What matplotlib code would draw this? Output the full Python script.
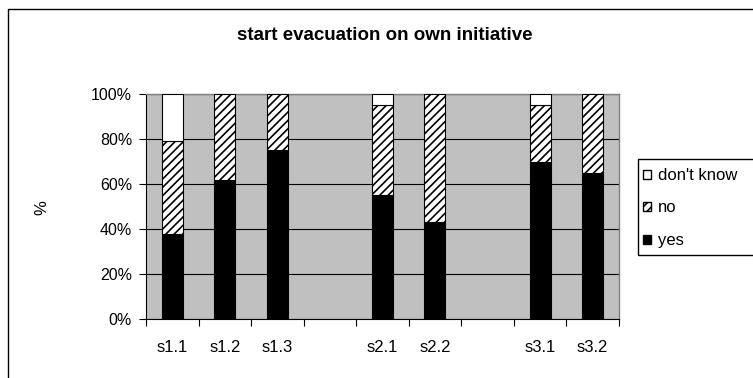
import matplotlib.pyplot as plt
from matplotlib.patches import Rectangle, Patch

plt.rcParams['font.family'] = ['Liberation Sans', 'DejaVu Sans']
plt.rcParams['hatch.linewidth'] = 1.2

# scenario slots, empty strings are the gaps between groups
categories = ['s1.1', 's1.2', 's1.3', '', 's2.1', 's2.2', '', 's3.1', 's3.2']
yes = [38, 62, 75, 0, 55, 43, 0, 70, 65]
no = [41, 38, 25, 0, 40, 57, 0, 25, 35]
dont_know = [21, 0, 0, 0, 5, 0, 0, 5, 0]
y_ticks = [0, 20, 40, 60, 80, 100]

fig = plt.figure(figsize=(7.53, 3.78), dpi=100)
ax = fig.add_axes([0.1939, 0.1553, 0.628, 0.596])
ax.set_facecolor('#C0C0C0')


def stack(values, bottoms, **style):
    # skip empty segments so no outline is drawn for them
    xs = [i for i, v in enumerate(values) if v > 0]
    ax.bar(xs, [values[i] for i in xs], bottom=[bottoms[i] for i in xs],
           width=0.4, edgecolor='black', linewidth=0.8, zorder=3, **style)


base = [0] * len(categories)
stack(yes, base, color='black')
stack(no, yes, color='white', hatch='////')
stack(dont_know, [a + b for a, b in zip(yes, no)], color='white')

ax.set_xlim(-0.5, len(categories) - 0.5)
ax.set_ylim(0, 100)
ax.set_yticks(y_ticks)
ax.set_yticklabels([f'{v}%' for v in y_ticks], fontsize=11.5)
ax.yaxis.grid(True, color='black', linewidth=0.8, zorder=1)

# ticks between slots, labels centred on the slots
ax.set_xticks([i - 0.5 for i in range(len(categories) + 1)])
ax.set_xticklabels([])
ax.set_xticks(range(len(categories)), minor=True)
ax.set_xticklabels(categories, minor=True, fontsize=12)
ax.tick_params(axis='x', which='major', length=5, width=0.8, direction='out')
ax.tick_params(axis='x', which='minor', length=0, pad=15)
ax.tick_params(axis='y', length=5, width=0.8, direction='out', pad=5)

for side in ['top', 'right']:
    ax.spines[side].set_color('#808080')
    ax.spines[side].set_linewidth(1.0)
for side in ['left', 'bottom']:
    ax.spines[side].set_color('black')
    ax.spines[side].set_linewidth(0.8)

fig.text(385 / 753, 1 - 40 / 378, 'start evacuation on own initiative',
         ha='center', va='baseline', fontsize=13.5, fontweight='bold')
fig.text(42 / 753, 1 - 208 / 378, '%', rotation=90, ha='center', va='center', fontsize=12)

# chart area frame
fig.patches.append(Rectangle((8 / 753, -0.1), 1.1, 1.1 - 9 / 378,
                             transform=fig.transFigure, fill=False,
                             edgecolor='black', linewidth=1.0))

# legend with its box running off the right edge
handles = [Patch(facecolor='white', edgecolor='black', label="don't know"),
           Patch(facecolor='white', edgecolor='black', hatch='////', label='no'),
           Patch(facecolor='black', edgecolor='black', label='yes')]
fig.legend(handles=handles, loc='upper left', bbox_to_anchor=(643 / 753, 1 - 168 / 378),
           frameon=False, fontsize=12, handlelength=0.45, handleheight=0.45,
           handletextpad=0.45, labelspacing=1.05, borderpad=0.0, borderaxespad=0)
fig.patches.append(Rectangle((638 / 753, 1 - 255 / 378), 0.3, 96 / 378,
                             transform=fig.transFigure, fill=False,
                             edgecolor='black', linewidth=1.0))

fig.savefig('out.png', dpi=100)
